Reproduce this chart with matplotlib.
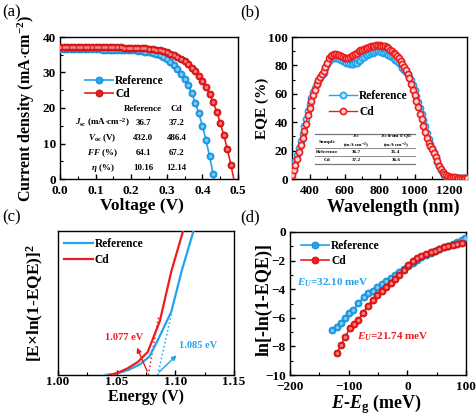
import matplotlib
matplotlib.use("Agg")
import matplotlib.pyplot as plt
from matplotlib.ticker import MultipleLocator, AutoMinorLocator

plt.rcParams['font.family'] = ['Liberation Serif', 'DejaVu Serif']
plt.rcParams['font.weight'] = 'bold'
plt.rcParams['mathtext.fontset'] = 'custom'
plt.rcParams['mathtext.rm'] = 'Liberation Serif:bold'
plt.rcParams['mathtext.it'] = 'Liberation Serif:italic:bold'
plt.rcParams['mathtext.bf'] = 'Liberation Serif:bold'
plt.rcParams['axes.linewidth'] = 1.0
plt.rcParams['xtick.direction'] = 'in'
plt.rcParams['ytick.direction'] = 'in'

BLUE = '#22a3ee'
BLUE_DK = '#1587cf'
RED = '#ee1c1c'
RED_DK = '#c40d0d'

# (a) J-V curves
v_ref = [0.00, 0.01, 0.02, 0.03, 0.04, 0.05, 0.06, 0.07, 0.08, 0.09, 0.10, 0.11, 0.12, 0.13, 0.14,
         0.15, 0.16, 0.17, 0.18, 0.19, 0.20, 0.21, 0.22, 0.23, 0.24, 0.25, 0.26, 0.27, 0.28, 0.29,
         0.30, 0.31, 0.32, 0.33, 0.34, 0.35, 0.36, 0.37, 0.38, 0.39, 0.40, 0.41, 0.42, 0.43, 0.44]
j_ref = [36.60, 36.59, 36.58, 36.57, 36.56, 36.55, 36.54, 36.53, 36.52, 36.51, 36.50, 36.48, 36.46,
         36.44, 36.42, 36.40, 36.38, 36.35, 36.32, 36.30, 36.25, 36.20, 36.10, 36.00, 35.90, 35.70,
         35.50, 35.20, 34.80, 34.30, 33.70, 33.00, 32.10, 31.00, 29.70, 28.20, 26.40, 24.20, 21.50,
         18.50, 15.00, 11.00, 6.50, 1.50, -3.60]
v_cd = [0.00, 0.01, 0.02, 0.03, 0.04, 0.05, 0.06, 0.07, 0.08, 0.09, 0.10, 0.11, 0.12, 0.13, 0.14,
        0.15, 0.16, 0.17, 0.18, 0.19, 0.20, 0.21, 0.22, 0.23, 0.24, 0.25, 0.26, 0.27, 0.28, 0.29,
        0.30, 0.31, 0.32, 0.33, 0.34, 0.35, 0.36, 0.37, 0.38, 0.39, 0.40, 0.41, 0.42, 0.43, 0.44,
        0.45, 0.46, 0.47, 0.48, 0.49]
j_cd = [37.30, 37.29, 37.28, 37.27, 37.26, 37.25, 37.24, 37.23, 37.22, 37.21, 37.20, 37.18, 37.16,
        37.14, 37.12, 37.10, 37.08, 37.06, 37.04, 37.02, 37.00, 36.95, 36.90, 36.85, 36.80, 36.70,
        36.60, 36.40, 36.20, 36.00, 35.70, 35.30, 34.90, 34.40, 33.80, 33.10, 32.30, 31.40, 30.30,
        29.00, 27.60, 25.90, 23.90, 21.60, 19.00, 15.80, 12.40, 8.50, 4.00, -0.80]

table_a_rows = [r'$\mathit{J}_{\rm sc}$ (mA$\cdot$cm$^{-2}$)', r'$\mathit{V}_{\rm oc}$ (V)',
                r'$\mathit{FF}$ (%)', r'$\mathit{\eta}$ (%)']
table_a_ref = ['36.7', '432.0', '64.1', '10.16']
table_a_cd = ['37.2', '486.4', '67.2', '12.14']

# (b) EQE spectra
wl = [300, 310, 320, 330, 340, 350, 360, 370, 380, 390, 400, 410, 420, 430, 440, 450, 460, 470,
      480, 490, 500, 510, 520, 530, 540, 550, 560, 570, 580, 590, 600, 610, 620, 630, 640, 650,
      660, 670, 680, 690, 700, 710, 720, 730, 740, 750, 760, 770, 780, 790, 800, 810, 820, 830,
      840, 850, 860, 870, 880, 890, 900, 910, 920, 930, 940, 950, 960, 970, 980, 990, 1000, 1010,
      1020, 1030, 1040, 1050, 1060, 1070, 1080, 1090, 1100, 1110, 1120, 1130, 1140, 1150, 1160,
      1170, 1180, 1190, 1200, 1210, 1220, 1230, 1240, 1250, 1260, 1270, 1280, 1290, 1300]
eqe_ref = [4, 8, 13, 17, 22, 27, 32, 37, 42, 48, 53, 57, 61, 64, 67, 69, 71, 73, 75, 78, 81, 83,
           84.5, 85, 85.5, 85.5, 85, 84.5, 84, 83, 82.5, 82, 81.5, 81, 81, 81, 81.5, 82, 83, 84,
           85, 86, 87, 87.5, 88, 88.5, 89, 89.5, 90, 90, 90, 89.5, 89, 88.5, 88, 87, 86.5, 86, 85,
           84, 83, 81.5, 80, 78.5, 77, 75.5, 74, 72, 70, 66.5, 62.5, 58.5, 54.5, 50, 46, 41.5, 37,
           32.5, 28.5, 25, 22, 19, 15.5, 12, 9, 6.5, 4.5, 3, 2, 1.5, 1.1, 0.9, 0.8, 0.7, 0.6, 0.6,
           0.5, 0.5, 0.5, 0.4, 0.4]
eqe_cd = [3, 6, 10, 14, 19, 24, 29, 34, 39, 45, 50, 55, 59, 63, 67, 70, 72, 74, 76, 79, 82, 85,
          86.5, 87.5, 88, 88, 87.5, 87, 86.5, 86, 85.5, 85.5, 85.5, 86, 86.5, 87, 88, 89, 90, 90.5,
          91, 91.5, 92, 92.5, 93, 93.5, 94, 94, 94.5, 94.5, 94.5, 94, 94, 93.5, 93, 92, 91, 90, 89,
          88, 86.5, 85, 83, 81, 79, 77, 74, 71, 67, 63, 59, 55, 51, 46, 42, 37.5, 33, 29, 25.5, 23,
          21, 18.5, 15.5, 12.5, 9.5, 7, 5, 3.5, 2.5, 2, 1.6, 1.4, 1.2, 1.1, 1.0, 0.9, 0.8, 0.8,
          0.7, 0.7, 0.7]

table_b_header = ['Sample', '$\\mathit{J}_{\\rm sc}$\n(mA$\\cdot$cm$^{-2}$)',
                  '$\\mathit{J}_{\\rm sc}$ from EQE\n(mA$\\cdot$cm$^{-2}$)']
table_b_rows = [['Reference', '36.7', '35.4'], ['Cd', '37.2', '36.6']]

# (c) band gap extraction, arbitrary units
e_ref = [1.0405, 1.050, 1.060, 1.070, 1.0778, 1.0851, 1.0966, 1.1052, 1.1153, 1.118]
y_ref = [0.0, 0.01, 0.035, 0.075, 0.127, 0.243, 0.44, 0.717, 0.995, 1.1]
e_cd = [1.044, 1.050, 1.059, 1.068, 1.0765, 1.0868, 1.0966, 1.1066, 1.110]
y_cd = [0.0, 0.012, 0.045, 0.09, 0.16, 0.375, 0.72, 1.0, 1.1]
tan_ref_e = [1.085, 1.0966]
tan_ref_y = [0.0, 0.42]
tan_cd_e = [1.077, 1.0856]
tan_cd_y = [0.0, 0.40]

# (d) Urbach tail
de_ref = [-129, -120.5, -113, -106, -99, -92, -83.6, -74, -66.6, -59, -51, -44, -36.5, -28.6, -21,
          -14, -6, 1.5, 9, 17, 24, 31.7, 39.6, 47, 54, 62, 69.7, 77, 85, 92.5, 98]
ln_ref = [-6.85, -6.62, -6.34, -6.04, -5.69, -5.45, -4.99, -4.52, -4.29, -4.13, -3.87, -3.64, -3.40,
          -3.19, -3.00, -2.82, -2.61, -2.38, -2.14, -1.96, -1.77, -1.61, -1.45, -1.33, -1.19,
          -1.07, -0.96, -0.84, -0.72, -0.56, -0.44]
de_cd = [-119.4, -113, -106, -97.8, -90.4, -83.6, -76, -67.6, -59, -51, -44, -36.5, -28.6, -21,
         -14, -6, 1.5, 9, 17, 24, 31.7, 39.6, 47, 54, 62, 69.7, 77, 85, 92.5]
ln_cd = [-8.44, -7.90, -7.32, -6.74, -6.43, -6.15, -5.69, -5.17, -4.76, -4.41, -4.10, -3.82,
         -3.59, -3.31, -3.00, -2.66, -2.31, -2.00, -1.84, -1.68, -1.54, -1.42, -1.31, -1.21,
         -1.07, -0.98, -0.91, -0.84, -0.75]

fig = plt.figure(figsize=(4.77, 4.16), dpi=100)
W, H = 477.0, 416.0


def box(x0, x1, ytop, ybot):
    return [x0 / W, 1 - ybot / H, (x1 - x0) / W, (ybot - ytop) / H]


def style(ax, fs=9.5, xpad=3.0):
    ax.tick_params(axis='x', labelsize=fs, width=1.0, length=3.5, pad=xpad)
    ax.tick_params(axis='y', labelsize=fs, width=1.0, length=3.5, pad=3.0)
    ax.tick_params(which='minor', width=0.8, length=2)
    for lab in ax.get_xticklabels() + ax.get_yticklabels():
        lab.set_fontweight('bold')


def sphere(ax, x, y, c, cdk, ms, zo, label=None, me=None):
    ax.plot(x, y, '-', color=c, lw=1.2, marker='o', ms=ms, mfc=c, mec=cdk, mew=0.6,
            markevery=me, label=label, zorder=zo)
    ax.plot(x, y, 'o', ms=ms * 0.45, color='white', alpha=0.45, mew=0,
            markevery=me, zorder=zo + 0.1)


def labels(ax, xl, xfs, xpos, yl, yfs, ypos):
    ax.set_xlabel(xl, fontsize=xfs, fontweight='bold')
    ax.set_ylabel(yl, fontsize=yfs, fontweight='bold')
    ax.xaxis.set_label_coords(*xpos)
    ax.yaxis.set_label_coords(*ypos)


leg_fs = 8.3

# ---- (a)
ax = fig.add_axes(box(60, 238, 37, 179))
sphere(ax, v_ref, j_ref, BLUE, BLUE_DK, 5.0, 3, 'Reference', slice(0, -1))
sphere(ax, v_cd, j_cd, RED, RED_DK, 5.0, 4, 'Cd', slice(0, -1))
ax.set_xlim(0, 0.5)
ax.set_ylim(0, 40)
ax.xaxis.set_major_locator(MultipleLocator(0.1))
ax.yaxis.set_major_locator(MultipleLocator(10))
ax.xaxis.set_minor_locator(AutoMinorLocator(2))
ax.yaxis.set_minor_locator(AutoMinorLocator(2))
labels(ax, 'Voltage (V)', 12.5, (0.46, -0.135),
       r'Current density (mA$\cdot$cm$^{-2}$)', 11.5, (-0.13, 0.5))
style(ax, xpad=4.5)
ax.legend(loc='upper left', bbox_to_anchor=(0.11, 0.77), frameon=False, fontsize=leg_fs,
          handlelength=2.4, handletextpad=0.2, labelspacing=0.05, borderpad=0, numpoints=1)
ax.text(0.467, 0.493, 'Reference', transform=ax.transAxes, ha='center', va='center', fontsize=6.5)
ax.text(0.656, 0.493, 'Cd', transform=ax.transAxes, ha='center', va='center', fontsize=6.5)
for i, yy in enumerate([0.394, 0.289, 0.183, 0.077]):
    ax.text(0.24, yy, table_a_rows[i], transform=ax.transAxes, ha='center', va='center', fontsize=6.5)
    ax.text(0.467, yy, table_a_ref[i], transform=ax.transAxes, ha='center', va='center', fontsize=6.5)
    ax.text(0.656, yy, table_a_cd[i], transform=ax.transAxes, ha='center', va='center', fontsize=6.5)

# ---- (b)
ax = fig.add_axes(box(292, 467, 37, 179))
ax.plot(wl, eqe_ref, '-', color=BLUE, lw=1, marker='o', ms=4.4, mfc='#bfe6fb', mec=BLUE, mew=1.2,
        label='Reference', zorder=3)
ax.plot(wl, eqe_cd, '-', color=RED, lw=1, marker='o', ms=4.4, mfc='#fbd0d0', mec=RED, mew=1.2,
        label='Cd', zorder=4)
ax.set_xlim(300, 1300)
ax.set_ylim(0, 100)
ax.xaxis.set_major_locator(MultipleLocator(200))
ax.yaxis.set_major_locator(MultipleLocator(20))
ax.xaxis.set_minor_locator(AutoMinorLocator(2))
ax.yaxis.set_minor_locator(AutoMinorLocator(2))
labels(ax, 'Wavelength (nm)', 13, (0.58, -0.14), 'EQE (%)', 11, (-0.13, 0.5))
style(ax, xpad=4.5)
ax.legend(loc='upper left', bbox_to_anchor=(0.18, 0.67), frameon=False, fontsize=leg_fs,
          handlelength=2.4, handletextpad=0.2, labelspacing=0.35, borderpad=0, numpoints=1)
tx0, tx1 = 0.131, 0.703
for yy, lw_ in [(0.317, 0.9), (0.216, 0.6), (0.162, 0.6), (0.104, 0.9)]:
    ax.plot([tx0, tx1], [yy, yy], transform=ax.transAxes, color='#777777', lw=lw_, zorder=5)
cols = [0.2, 0.366, 0.594]
for k, txt in enumerate(table_b_header):
    ax.text(cols[k], 0.262, txt, transform=ax.transAxes, ha='center', va='center', fontsize=3.8,
            linespacing=1.1, zorder=6)
for r, yy in zip(table_b_rows, [0.189, 0.133]):
    for k, txt in enumerate(r):
        ax.text(cols[k], yy, txt, transform=ax.transAxes, ha='center', va='center', fontsize=3.8,
                zorder=6)

# ---- (c)
ax = fig.add_axes(box(58, 234, 231, 375))
ax.plot(e_ref, y_ref, color=BLUE, lw=1.6, label='Reference', zorder=3)
ax.plot(e_cd, y_cd, color=RED, lw=1.6, label='Cd', zorder=4)
ax.plot(tan_ref_e, tan_ref_y, ':', color=BLUE, lw=1.1)
ax.plot(tan_cd_e, tan_cd_y, ':', color=RED, lw=1.1)
ax.annotate('', xy=(1.0664, 0.208), xytext=(1.077, 0.007),
            arrowprops=dict(arrowstyle='-|>', color=RED, lw=1, mutation_scale=7))
ax.annotate('', xy=(1.1028, 0.15), xytext=(1.0845, 0.007),
            arrowprops=dict(arrowstyle='-|>', color=BLUE, lw=1, mutation_scale=7))
ax.text(1.056, 0.257, '1.077 eV', color=RED, ha='center', va='center', fontsize=7.5)
ax.text(1.119, 0.208, '1.085 eV', color=BLUE, ha='center', va='center', fontsize=7.5)
ax.set_xlim(1.00, 1.15)
ax.set_ylim(0, 1)
ax.xaxis.set_major_locator(MultipleLocator(0.05))
ax.xaxis.set_minor_locator(AutoMinorLocator(2))
ax.set_yticks([])
labels(ax, 'Energy (V)', 11.5, (0.5, -0.095), r'[E$\times$ln(1-EQE)]$^2$', 12.5, (-0.07, 0.5))
style(ax, fs=9.5, xpad=1.0)
ax.legend(loc='upper left', bbox_to_anchor=(0.0, 0.99), frameon=False, fontsize=leg_fs,
          handlelength=2.5, handletextpad=0.2, labelspacing=0.35, borderpad=0)

# ---- (d)
ax = fig.add_axes(box(290, 466, 232, 375))
sphere(ax, de_ref, ln_ref, BLUE, BLUE_DK, 5.0, 3, 'Reference')
sphere(ax, de_cd, ln_cd, RED, RED_DK, 5.0, 4, 'Cd')
ax.set_xlim(-200, 100)
ax.set_ylim(-10, 0)
ax.xaxis.set_major_locator(MultipleLocator(100))
ax.yaxis.set_major_locator(MultipleLocator(2))
ax.xaxis.set_minor_locator(AutoMinorLocator(2))
ax.yaxis.set_minor_locator(AutoMinorLocator(2))
ax.text(0.04, 0.643, r'$\mathit{E}_{\mathit{U}}$=32.10 meV', transform=ax.transAxes, color=BLUE,
        ha='left', va='center', fontsize=8)
ax.text(0.38, 0.266, r'$\mathit{E}_{\mathit{U}}$=21.74 meV', transform=ax.transAxes, color=RED,
        ha='left', va='center', fontsize=8)
labels(ax, r'$\mathit{E}$-$\mathit{E}_{\rm g}$ (meV)', 13, (0.49, -0.12),
       'ln[-ln(1-EQE)]', 13, (-0.1, 0.53))
style(ax, xpad=4.0)
ax.legend(loc='upper left', bbox_to_anchor=(0.03, 0.985), frameon=False, fontsize=leg_fs,
          handlelength=2.4, handletextpad=0.2, labelspacing=0.3, borderpad=0, numpoints=1)

# panel tags
for tag, x, y in [('(a)', 2, 12), ('(b)', 240, 12), ('(c)', 2, 217), ('(d)', 240, 217)]:
    fig.text(x / W, 1 - y / H, tag, fontsize=12, fontweight='normal', ha='left', va='center')

fig.savefig('out.png', dpi=100)
